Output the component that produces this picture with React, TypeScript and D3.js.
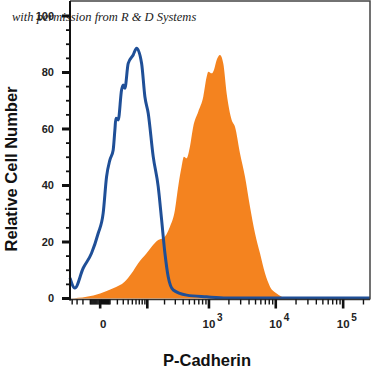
import React, { useEffect, useRef } from 'react'
import * as d3 from 'd3'

// isotype control (blue outline), x = fluorescence intensity, y = % of max
const isotypeX = [-45, -34.4, -19.7, -8.6, -1.8, 2.7, 6.1, 9.8, 14, 16.3, 17.8, 21.3, 26.9, 29.9, 33.1, 40.1, 52.2, 61.7, 77.9, 90.1, 103.9, 127.9, 156.3, 178.7, 203, 230, 278, 453, 923, 1851, 22950, 250000]
const isotypeY = [7.3, 3.7, 10.7, 16, 23, 30.2, 43.1, 49, 52.6, 59.6, 63.8, 63.2, 73.8, 75.6, 74.4, 83.2, 86.2, 88.6, 83.2, 71.4, 65.6, 50.2, 39.6, 27.8, 16, 7.7, 3.0, 1.2, 0.6, 0.2, 0.2, 0.2]

// P-Cadherin stained cells (orange fill)
const stainedX = [-45, -14.8, 0, 14, 33.1, 48.1, 66.6, 97, 119.7, 156.3, 190, 245.5, 295.8, 334, 378, 411, 453, 510, 574, 686, 819, 923, 976, 1099, 1191, 1308, 1468, 1646, 1851, 2201, 2466, 2930, 3482, 4135, 4910, 5828, 6918, 8212, 10330, 12950, 16290, 250000]
const stainedY = [0, 0.6, 1.8, 3.6, 6, 8.9, 12.5, 16, 18.3, 20.7, 21.3, 25.4, 31.3, 39.6, 46.7, 50.2, 49.6, 53.7, 60.8, 66.1, 71.4, 78.5, 80.3, 79.7, 80.9, 84.4, 86.2, 83.2, 72.6, 63.2, 60.8, 51.4, 43.1, 32.5, 23.1, 16, 8.9, 4.2, 1.8, 0.4, 0, 0]

const yTicks = d3.range(0, 101, 5)
const yLabels = [0, 20, 40, 60, 80, 100]
const xMajor = [0, 100, 1000, 10000, 100000]
const xLabels = [
  { v: 0, base: '0', exp: '' },
  { v: 1000, base: '10', exp: '3' },
  { v: 10000, base: '10', exp: '4' },
  { v: 100000, base: '10', exp: '5' },
]

const W = 371
const H = 372

export default function App() {
  const ref = useRef<SVGSVGElement>(null)

  useEffect(() => {
    const svg = d3.select(ref.current)
    svg.selectAll('*').remove()

    const left = 70
    const right = 370
    const top = 1
    const bottom = 298.5

    const x = d3.scaleSymlog().constant(25).domain([-45, 250000]).range([left, right])
    const y = d3.scaleLinear().domain([0, 105.3]).range([bottom, top])

    // minor x ticks: 1..9 x 10^k
    const xMinor: number[] = []
    for (let k = 0; k <= 5; k++) {
      for (let m = 1; m <= 9; m++) {
        const v = m * Math.pow(10, k)
        if (v <= 250000 && !xMajor.includes(v)) xMinor.push(v)
        if (k <= 1 && -v >= -45) xMinor.push(-v)
      }
    }

    const stained = stainedX.map((v, i) => [v, stainedY[i]] as [number, number])
    const isotype = isotypeX.map((v, i) => [v, isotypeY[i]] as [number, number])

    const area = d3
      .area<[number, number]>()
      .x((d) => x(d[0]))
      .y0(y(0))
      .y1((d) => y(d[1]))
      .curve(d3.curveMonotoneX)

    const line = d3
      .line<[number, number]>()
      .x((d) => x(d[0]))
      .y((d) => y(d[1]))
      .curve(d3.curveMonotoneX)

    svg.append('path').attr('d', area(stained)).attr('fill', '#f4831f')

    svg
      .append('path')
      .attr('d', line(isotype))
      .attr('fill', 'none')
      .attr('stroke', '#1f4f97')
      .attr('stroke-width', 3)
      .attr('stroke-linejoin', 'round')

    // frame
    svg
      .append('path')
      .attr('d', `M${left},${top}H${right}V${bottom + 1}`)
      .attr('fill', 'none')
      .attr('stroke', '#444')
      .attr('stroke-width', 1.5)

    svg
      .append('line')
      .attr('x1', left)
      .attr('x2', right)
      .attr('y1', bottom + 1)
      .attr('y2', bottom + 1)
      .attr('stroke', '#333')
      .attr('stroke-width', 1.5)

    svg
      .append('line')
      .attr('x1', left)
      .attr('x2', left)
      .attr('y1', top)
      .attr('y2', bottom + 2)
      .attr('stroke', '#111')
      .attr('stroke-width', 2)

    // watermark
    svg
      .append('text')
      .attr('x', 12)
      .attr('y', 21)
      .attr('font-family', 'Liberation Serif, serif')
      .attr('font-style', 'italic')
      .attr('font-size', 12.5)
      .attr('fill', '#222')
      .text('with permission from R & D Systems')

    // y ticks
    svg
      .append('g')
      .selectAll('line')
      .data(yTicks)
      .enter()
      .append('line')
      .attr('x1', (d) => (d % 20 === 0 ? left - 8 : left - 4))
      .attr('x2', left)
      .attr('y1', (d) => y(d))
      .attr('y2', (d) => y(d))
      .attr('stroke', '#111')
      .attr('stroke-width', (d) => (d % 20 === 0 ? 3 : 1.8))

    svg
      .append('g')
      .selectAll('text')
      .data(yLabels)
      .enter()
      .append('text')
      .attr('x', 54)
      .attr('y', (d) => y(d))
      .attr('dy', '0.36em')
      .attr('text-anchor', 'end')
      .attr('font-family', 'Liberation Sans, Arial, sans-serif')
      .attr('font-weight', 'bold')
      .attr('font-size', 11)
      .attr('fill', '#222')
      .text((d) => d)

    // x ticks
    const xt = svg.append('g')
    xt.selectAll('line.minor')
      .data(xMinor)
      .enter()
      .append('line')
      .attr('x1', (d) => x(d))
      .attr('x2', (d) => x(d))
      .attr('y1', bottom + 1)
      .attr('y2', bottom + 6)
      .attr('stroke', '#111')
      .attr('stroke-width', 1.4)
    xt.selectAll('line.major')
      .data(xMajor)
      .enter()
      .append('line')
      .attr('x1', (d) => x(d))
      .attr('x2', (d) => x(d))
      .attr('y1', bottom + 1)
      .attr('y2', bottom + 10)
      .attr('stroke', '#111')
      .attr('stroke-width', 2.6)

    const lab = svg
      .append('g')
      .attr('font-family', 'Liberation Sans, Arial, sans-serif')
      .attr('font-weight', 'bold')
      .attr('fill', '#222')
      .selectAll('g')
      .data(xLabels)
      .enter()
      .append('g')
    lab
      .append('text')
      .attr('x', (d) => x(d.v) + (d.v === 0 ? 3 : 0))
      .attr('y', 328)
      .attr('text-anchor', 'middle')
      .attr('font-size', 11.5)
      .text((d) => d.base)
    lab
      .append('text')
      .attr('x', (d) => x(d.v) + 8)
      .attr('y', 321)
      .attr('font-size', 10)
      .text((d) => d.exp)

    // axis titles
    svg
      .append('text')
      .attr('x', 207)
      .attr('y', 366)
      .attr('text-anchor', 'middle')
      .attr('font-family', 'Liberation Sans, Arial, sans-serif')
      .attr('font-weight', 'bold')
      .attr('font-size', 16.5)
      .attr('fill', '#111')
      .text('P-Cadherin')

    svg
      .append('text')
      .attr('transform', 'translate(17,169) rotate(-90)')
      .attr('text-anchor', 'middle')
      .attr('font-family', 'Liberation Sans, Arial, sans-serif')
      .attr('font-weight', 'bold')
      .attr('font-size', 16.5)
      .attr('fill', '#111')
      .text('Relative Cell Number')
  }, [])

  return (
    <svg
      ref={ref}
      width={W}
      height={H}
      style={{ position: 'absolute', left: 0, top: 0, background: '#fff' }}
    />
  )
}
